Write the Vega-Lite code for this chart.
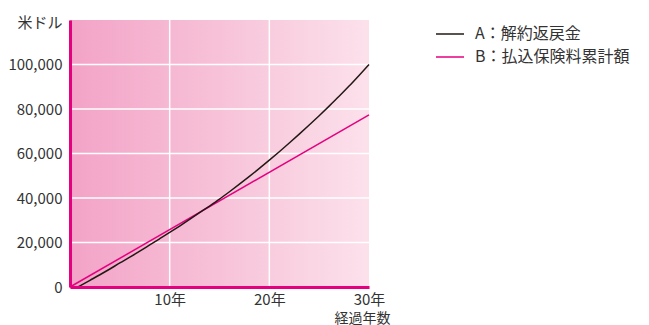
{
  "$schema": "https://vega.github.io/schema/vega-lite/v6.json",
  "width": 299,
  "height": 267,
  "autosize": "none",
  "padding": {"left": 70, "top": 20, "right": 280, "bottom": 38},
  "background": "white",
  "config": {
    "font": "Noto Sans CJK JP",
    "view": {"stroke": null}
  },
  "datasets": {
    "lines": [
      {"t": 0, "value": 0, "series": "B：払込保険料累計額"},
      {"t": 30, "value": 77400, "series": "B：払込保険料累計額"},
      {"t": 0.8, "value": 0, "series": "A：解約返戻金"},
      {"t": 1, "value": 500, "series": "A：解約返戻金"},
      {"t": 2, "value": 3000, "series": "A：解約返戻金"},
      {"t": 3, "value": 5500, "series": "A：解約返戻金"},
      {"t": 4, "value": 8100, "series": "A：解約返戻金"},
      {"t": 5, "value": 10800, "series": "A：解約返戻金"},
      {"t": 6, "value": 13400, "series": "A：解約返戻金"},
      {"t": 7, "value": 16100, "series": "A：解約返戻金"},
      {"t": 8, "value": 18900, "series": "A：解約返戻金"},
      {"t": 9, "value": 21700, "series": "A：解約返戻金"},
      {"t": 10, "value": 24500, "series": "A：解約返戻金"},
      {"t": 11, "value": 27400, "series": "A：解約返戻金"},
      {"t": 12, "value": 30400, "series": "A：解約返戻金"},
      {"t": 13, "value": 33400, "series": "A：解約返戻金"},
      {"t": 14, "value": 36400, "series": "A：解約返戻金"},
      {"t": 15, "value": 39500, "series": "A：解約返戻金"},
      {"t": 16, "value": 42800, "series": "A：解約返戻金"},
      {"t": 17, "value": 46200, "series": "A：解約返戻金"},
      {"t": 18, "value": 49700, "series": "A：解約返戻金"},
      {"t": 19, "value": 53300, "series": "A：解約返戻金"},
      {"t": 20, "value": 57000, "series": "A：解約返戻金"},
      {"t": 21, "value": 60800, "series": "A：解約返戻金"},
      {"t": 22, "value": 64700, "series": "A：解約返戻金"},
      {"t": 23, "value": 68700, "series": "A：解約返戻金"},
      {"t": 24, "value": 72800, "series": "A：解約返戻金"},
      {"t": 25, "value": 77000, "series": "A：解約返戻金"},
      {"t": 26, "value": 81300, "series": "A：解約返戻金"},
      {"t": 27, "value": 85700, "series": "A：解約返戻金"},
      {"t": 28, "value": 90300, "series": "A：解約返戻金"},
      {"t": 29, "value": 95100, "series": "A：解約返戻金"},
      {"t": 30, "value": 100000, "series": "A：解約返戻金"}
    ],
    "vgrid": [{"t": 10}, {"t": 20}],
    "hgrid": [{"v": 20000}, {"v": 40000}, {"v": 60000}, {"v": 80000}, {"v": 100000}]
  },
  "layer": [
    {
      "data": {"values": [{}]},
      "mark": {
        "type": "rect",
        "color": {
          "gradient": "linear",
          "x1": 0, "x2": 1, "y1": 0, "y2": 0,
          "stops": [
            {"offset": 0, "color": "#F3A3C7"},
            {"offset": 0.5, "color": "#F7C2D8"},
            {"offset": 1, "color": "#FCE1EB"}
          ]
        }
      },
      "encoding": {
        "x": {"datum": 0, "type": "quantitative", "scale": {"domain": [0, 30], "nice": false},
          "axis": {
            "values": [10, 20, 30],
            "labelExpr": "datum.value + '年'",
            "grid": false,
            "ticks": false,
            "domainColor": "#E4007F",
            "domainWidth": 3,
            "labelFontSize": 15,
            "labelColor": "#333333",
            "labelPadding": 5,
            "labelFlush": false,
            "zindex": 1,
            "title": "経過年数",
            "titleFontSize": 14,
            "titleFontWeight": "normal",
            "titleColor": "#333333",
            "titleAnchor": "end",
            "titleAlign": "right",
            "titleBaseline": "alphabetic",
            "titleX": 320,
            "titleY": 35
          }
        },
        "x2": {"datum": 30},
        "y": {"datum": 0, "type": "quantitative", "scale": {"domain": [0, 120000], "nice": false},
          "axis": {
            "values": [0, 20000, 40000, 60000, 80000, 100000],
            "labelExpr": "format(datum.value, ',')",
            "grid": false,
            "ticks": false,
            "domainColor": "#E4007F",
            "domainWidth": 3,
            "labelFontSize": 15,
            "labelColor": "#333333",
            "labelPadding": 8,
            "zindex": 1,
            "title": "米ドル",
            "titleAngle": 0,
            "titleFontSize": 15,
            "titleFontWeight": "normal",
            "titleColor": "#333333",
            "titleAlign": "right",
            "titleBaseline": "alphabetic",
            "titleX": -8,
            "titleY": 7
          }
        },
        "y2": {"datum": 120000}
      }
    },
    {
      "data": {"name": "vgrid"},
      "mark": {"type": "rule", "color": "white", "strokeWidth": 1.5},
      "encoding": {"x": {"field": "t", "type": "quantitative"}}
    },
    {
      "data": {"name": "hgrid"},
      "mark": {"type": "rule", "color": "white", "strokeWidth": 1.5},
      "encoding": {"y": {"field": "v", "type": "quantitative"}}
    },
    {
      "data": {"name": "lines"},
      "mark": {"type": "line", "strokeWidth": 1.5, "interpolate": "monotone"},
      "encoding": {
        "x": {"field": "t", "type": "quantitative"},
        "y": {"field": "value", "type": "quantitative"},
        "color": {
          "field": "series",
          "type": "nominal",
          "scale": {"domain": ["A：解約返戻金", "B：払込保険料累計額"], "range": ["#231815", "#E4007F"]},
          "legend": {
            "title": null,
            "orient": "none",
            "legendX": 365,
            "legendY": -1,
            "padding": 0,
            "symbolType": "stroke",
            "symbolSize": 784,
            "symbolStrokeWidth": 1.5,
            "labelFontSize": 16,
            "labelColor": "#333333",
            "labelOffset": 10,
            "rowPadding": -4,
            "labelLimit": 300
          }
        }
      }
    }
  ]
}
